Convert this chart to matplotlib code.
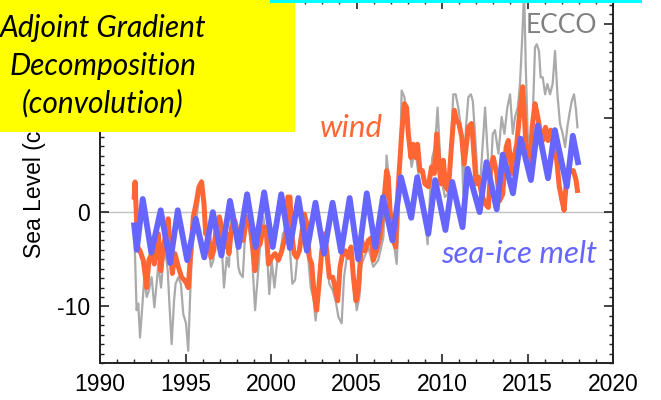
import matplotlib
matplotlib.use("Agg")
import matplotlib.pyplot as plt
from matplotlib.patches import Rectangle
from matplotlib.ticker import MultipleLocator, FixedFormatter, FixedLocator

plt.rcParams['font.family'] = ['Liberation Sans', 'DejaVu Sans']
plt.rcParams['axes.unicode_minus'] = False

# sea-ice melt contribution (cm), seasonal peaks and troughs
ice_t = [1992.0, 1992.15, 1992.5, 1993.0, 1993.55, 1994.1, 1994.55, 1995.1, 1995.6, 1996.1,
         1996.6, 1997.1, 1997.6, 1998.1, 1998.6, 1999.1, 1999.6, 2000.1, 2000.6, 2001.1,
         2001.6, 2002.1, 2002.6, 2003.1, 2003.6, 2004.1, 2004.6, 2005.1, 2005.6, 2006.1,
         2006.55, 2007.1, 2007.6, 2008.2, 2008.55, 2009.2, 2009.6, 2010.2, 2010.6, 2011.2,
         2011.5, 2012.2, 2012.6, 2013.2, 2013.55, 2014.15, 2014.6, 2015.2, 2015.6, 2016.2,
         2016.6, 2017.3, 2017.65, 2017.95]
ice_v = [-1.4, -4.0, 1.4, -4.3, 0.2, -5.4, 0.2, -5.1, -0.7, -4.8,
         0.0, -4.6, 1.2, -3.7, 1.9, -3.7, 2.1, -3.7, 1.9, -3.8,
         1.5, -4.1, 1.0, -4.4, 1.0, -4.2, 1.5, -5.0, 2.0, -3.7,
         1.6, -3.0, 3.7, -0.6, 3.7, -2.3, 3.4, -1.9, 3.2, -1.6,
         4.6, 0.0, 5.3, 0.3, 6.1, 2.0, 7.8, 3.4, 9.2, 3.6,
         8.7, 2.7, 8.1, 5.3]

# wind contribution (cm)
wind_t = [1992.0, 1992.05, 1992.2, 1992.34, 1992.53, 1992.73, 1992.86, 1993.02, 1993.18, 1993.31,
          1993.41, 1993.55, 1993.7, 1993.9, 1993.99, 1994.09, 1994.23, 1994.38, 1994.58, 1994.77,
          1994.93, 1995.07, 1995.16, 1995.3, 1995.46, 1995.65, 1995.79, 1995.94, 1996.08, 1996.18,
          1996.33, 1996.49, 1996.65, 1996.82, 1996.98, 1997.11, 1997.25, 1997.41, 1997.54, 1997.7,
          1997.89, 1998.09, 1998.19, 1998.38, 1998.58, 1998.74, 1998.87, 1999.07, 1999.2, 1999.36,
          1999.55, 1999.71, 1999.85, 2000.04, 2000.24, 2000.43, 2000.63, 2000.72, 2000.86, 2000.98,
          2001.11, 2001.21, 2001.35, 2001.5, 2001.66, 2001.8, 2001.95, 2002.09, 2002.24, 2002.38,
          2002.52, 2002.67, 2002.81, 2002.97, 2003.12, 2003.26, 2003.41, 2003.61, 2003.75, 2003.9,
          2004.04, 2004.19, 2004.35, 2004.52, 2004.68, 2004.82, 2004.97, 2005.1, 2005.3, 2005.5,
          2005.69, 2005.89, 2005.98, 2006.18, 2006.37, 2006.57, 2006.76, 2006.86, 2006.96, 2007.15,
          2007.29, 2007.44, 2007.64, 2007.8, 2007.93, 2008.03, 2008.18, 2008.32, 2008.46, 2008.57,
          2008.71, 2008.85, 2009.0, 2009.2, 2009.39, 2009.55, 2009.69, 2009.82, 2009.94, 2010.08,
          2010.21, 2010.37, 2010.56, 2010.72, 2010.86, 2010.99, 2011.15, 2011.3, 2011.54, 2011.73,
          2011.83, 2011.99, 2012.13, 2012.32, 2012.52, 2012.71, 2012.85, 2013.0, 2013.2, 2013.36,
          2013.55, 2013.75, 2013.88, 2014.08, 2014.21, 2014.37, 2014.56, 2014.72, 2014.82, 2014.95,
          2015.11, 2015.27, 2015.44, 2015.6, 2015.73, 2015.89, 2016.05, 2016.2, 2016.36, 2016.51,
          2016.71, 2016.86, 2017.02, 2017.14, 2017.25, 2017.39, 2017.53, 2017.68, 2017.84, 2017.92]
wind_v = [1.6, 3.2, -3.7, -4.1, -5.1, -8.0, -5.1, -4.4, -5.5, -3.4,
          -2.3, -6.2, -3.7, -1.9, -0.7, -3.7, -6.5, -4.4, -5.8, -6.9,
          -7.2, -7.6, -8.0, -4.4, -0.5, 1.2, 2.7, 3.2, 0.9, -2.3,
          -1.9, -4.8, -4.1, -1.2, -0.5, -1.6, -3.7, -2.3, -4.4, -1.6,
          -0.9, -2.6, -2.6, -3.0, -0.5, -0.9, -2.6, -6.2, -3.7, -3.4,
          -1.6, -1.6, -5.5, -4.8, -4.4, -5.1, -4.1, -3.4, -2.6, 1.6,
          1.6, -2.3, -4.4, -4.8, -4.1, -2.3, -0.2, -1.2, -4.8, -5.5,
          -8.7, -10.4, -7.6, -4.1, -2.3, -4.1, -6.9, -6.9, -8.0, -9.4,
          -5.8, -4.4, -4.1, -4.8, -3.7, -6.9, -9.4, -8.3, -3.0, -4.1,
          -3.0, -2.7, -5.1, -4.1, -2.7, 0.5, 4.4, 3.7, 0.2, -3.0,
          -3.7, 2.7, 8.3, 11.5, 11.1, 8.3, 5.8, 7.2, 5.8, 7.2,
          4.4, 4.4, 3.0, 2.7, 4.8, 4.1, 8.3, 5.1, 3.0, 5.5,
          2.7, 2.3, 7.2, 10.8, 9.7, 9.4, 8.0, 5.1, 9.0, 9.4,
          7.2, 3.0, 3.7, 1.9, 0.9, 0.5, 4.8, 5.8, 4.1, 1.2,
          1.9, 6.9, 7.6, 4.1, 5.8, 7.2, 10.8, 13.3, 10.1, 5.8,
          4.1, 9.0, 11.5, 10.1, 8.7, 7.6, 9.0, 7.6, 8.7, 7.2,
          5.5, 2.7, 1.2, 0.2, 2.7, 4.1, 4.4, 4.4, 3.4, 2.3]

# ECCO sea level (cm)
ecco_t = [1992.0, 1992.04, 1992.14, 1992.24, 1992.34, 1992.47, 1992.59, 1992.73, 1992.86, 1993.02,
          1993.18, 1993.31, 1993.41, 1993.57, 1993.7, 1993.84, 1993.96, 1994.05, 1994.19, 1994.33,
          1994.42, 1994.58, 1994.73, 1994.87, 1995.03, 1995.16, 1995.26, 1995.36, 1995.49, 1995.65,
          1995.79, 1995.94, 1996.08, 1996.2, 1996.33, 1996.49, 1996.63, 1996.76, 1996.92, 1997.11,
          1997.25, 1997.41, 1997.54, 1997.7, 1997.89, 1998.09, 1998.19, 1998.35, 1998.54, 1998.68,
          1998.87, 1999.07, 1999.22, 1999.36, 1999.55, 1999.71, 1999.9, 2000.04, 2000.2, 2000.37,
          2000.53, 2000.69, 2000.88, 2001.02, 2001.11, 2001.25, 2001.41, 2001.54, 2001.7, 2001.85,
          2001.99, 2002.19, 2002.32, 2002.48, 2002.61, 2002.77, 2002.93, 2003.1, 2003.26, 2003.41,
          2003.61, 2003.78, 2003.94, 2004.13, 2004.27, 2004.43, 2004.62, 2004.82, 2005.01, 2005.17,
          2005.3, 2005.69, 2005.98, 2006.27, 2006.57, 2006.76, 2006.9, 2007.05, 2007.21, 2007.35,
          2007.48, 2007.64, 2007.8, 2007.93, 2008.07, 2008.22, 2008.38, 2008.52, 2008.67, 2008.81,
          2009.0, 2009.16, 2009.3, 2009.43, 2009.59, 2009.74, 2009.88, 2010.02, 2010.17, 2010.33,
          2010.52, 2010.66, 2010.8, 2010.95, 2011.11, 2011.25, 2011.4, 2011.54, 2011.69, 2011.8,
          2011.93, 2012.07, 2012.22, 2012.38, 2012.52, 2012.65, 2012.81, 2012.97, 2013.1, 2013.3,
          2013.49, 2013.65, 2013.82, 2013.98, 2014.14, 2014.27, 2014.43, 2014.56, 2014.7, 2014.8,
          2014.9, 2015.01, 2015.15, 2015.3, 2015.44, 2015.54, 2015.67, 2015.77, 2015.89, 2016.03,
          2016.16, 2016.32, 2016.47, 2016.61, 2016.75, 2016.9, 2017.06, 2017.2, 2017.33, 2017.45,
          2017.59, 2017.72, 2017.84, 2017.92]
ecco_v = [-1.4, -4.1, -10.4, -9.7, -13.3, -10.1, -6.9, -9.0, -8.3, -6.9,
          -10.1, -7.6, -5.5, -8.0, -5.1, -4.4, -6.2, -9.4, -14.0, -9.4,
          -7.6, -6.9, -7.6, -10.8, -11.8, -14.7, -9.4, -5.1, -2.3, -0.5,
          1.6, 3.4, 0.5, -3.0, -3.4, -5.8, -5.1, -2.7, -1.6, -3.4,
          -8.0, -4.8, -5.8, 1.2, -0.5, -5.8, -6.5, -6.9, -0.5, -1.2,
          -4.1, -10.4, -6.9, -3.7, -0.5, -2.6, -8.7, -5.1, -8.0, -5.1,
          -4.8, -2.3, -1.9, -0.2, -4.1, -7.6, -7.2, -4.8, -2.6, -1.6,
          -2.6, -5.1, -8.0, -9.0, -11.5, -8.3, -4.1, -2.3, -5.1, -7.6,
          -8.3, -9.4, -11.1, -11.8, -6.9, -4.8, -3.7, -6.9, -10.4, -9.0,
          -5.5, -3.7, -5.8, -5.1, -2.7, 6.0, 3.4, -1.6, -3.7, -5.5,
          0.2, 12.9, 12.2, 10.4, 6.9, 4.8, 6.2, 5.5, 3.4, 1.6,
          -0.5, -3.4, 1.9, 5.8, 6.9, 11.1, 6.2, 3.0, 1.6, 1.9,
          7.2, 12.5, 12.5, 11.1, 9.0, 1.9, 9.0, 12.2, 12.5, 11.8,
          8.3, 4.1, 2.7, 7.2, 11.1, 6.9, 2.7, 8.3, 8.7, 6.2,
          10.1, 8.3, 11.1, 12.5, 8.3, 10.1, 11.1, 13.6, 18.9, 23.5,
          15.4, 8.3, 6.9, 9.7, 17.5, 17.8, 17.1, 14.3, 14.3, 12.5,
          13.6, 12.5, 13.6, 17.1, 12.5, 9.4, 8.3, 6.9, 9.0, 10.4,
          11.8, 12.5, 10.8, 9.0]

years = [1990, 1995, 2000, 2005, 2010, 2015, 2020]
# the 10 and 20 labels sit under the yellow box in the original slide
yticks = [-10, 0, 10, 20]
ylabels = ['-10', '0', '', '']

gray = '#aaaaaa'
orange = '#ff6633'
blue = '#6666ff'

fig = plt.figure(figsize=(6.61, 4.0), dpi=100)
ax = fig.add_axes([100 / 661, 37 / 400, 513 / 661, 363 / 400])

ax.axhline(0, color='#c0c0c0', lw=1.0, zorder=1)
ax.plot(ecco_t, ecco_v, color=gray, lw=1.6, zorder=2)
ax.plot(wind_t, wind_v, color=orange, lw=3.6, zorder=3, solid_joinstyle='round')
ax.plot(ice_t, ice_v, color=blue, lw=4.2, zorder=4, solid_joinstyle='round')

ax.set_xlim(1990, 2020)
ax.set_ylim(-16, 22.5)
ax.set_xticks(years)
ax.xaxis.set_minor_locator(MultipleLocator(1))
ax.yaxis.set_major_locator(FixedLocator(yticks))
ax.yaxis.set_major_formatter(FixedFormatter(ylabels))
ax.yaxis.set_minor_locator(MultipleLocator(1))
ax.tick_params(which='both', direction='in', top=True, right=True, colors='#222222',
               labelcolor='black', labelsize=16.5)
ax.tick_params(which='major', length=6.5, width=1.2, pad=7)
ax.tick_params(which='minor', length=3, width=1.0)
for s in ax.spines.values():
    s.set_linewidth(1.4)
    s.set_color('#222222')

ax.set_ylabel('Sea Level (cm)', fontsize=16.5)
ax.yaxis.set_label_coords(-0.105, 0.5)

# series labels
fig.text(597 / 661, 1 - 33 / 400, 'ECCO', color='#808080', fontsize=19,
         family='Lato', ha='right', va='baseline')
fig.text(320 / 661, 1 - 137 / 400, 'wind', color=orange, fontsize=22.5,
         family='Lato', style='italic', ha='left', va='baseline')
fig.text(597 / 661, 1 - 263 / 400, 'sea-ice melt', color=blue, fontsize=22.5,
         family='Lato', style='italic', ha='right', va='baseline')

# slide overlays
fig.patches.append(Rectangle((0, 1 - 132 / 400), 295 / 661, 132 / 400, transform=fig.transFigure,
                             facecolor='#ffff00', edgecolor='none', zorder=5))
fig.patches.append(Rectangle((270 / 661, 1 - 3 / 400), 372 / 661, 3 / 400, transform=fig.transFigure,
                             facecolor='#00ffff', edgecolor='none', zorder=6))
box_lines = ['Adjoint Gradient', 'Decomposition', '(convolution)']
for i, line in enumerate(box_lines):
    fig.text(103 / 661, 1 - (37 + 37.5 * i) / 400, line, fontsize=21.5, family='Lato',
             style='italic', ha='center', va='baseline', zorder=7)

fig.savefig('out.png', dpi=100)
